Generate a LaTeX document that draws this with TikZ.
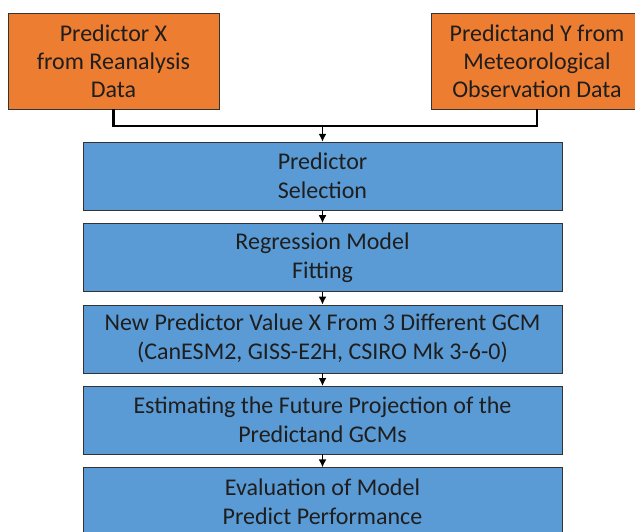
\documentclass[tikz,border=0pt]{standalone}
\usepackage{fontspec}
\setmainfont{Carlito}
\usetikzlibrary{positioning,arrows.meta}

\definecolor{dataorange}{HTML}{ED7D31}
\definecolor{stepblue}{HTML}{5B9BD5}
\definecolor{textdark}{HTML}{1E1E1E}

\tikzset{
  databox/.style={draw=black!80, fill=dataorange, minimum width=211pt, minimum height=96pt,
    align=center, text=textdark, font=\fontsize{24}{28}\selectfont, inner sep=0pt},
  stepbox/.style={draw=black!80, fill=stepblue, minimum width=479pt, minimum height=68pt,
    align=center, text=textdark, font=\fontsize{24}{29}\selectfont, inner sep=0pt},
  flow/.style={-{Latex[length=8pt,width=8pt]}, line width=1.6pt}
}

\begin{document}
\begin{tikzpicture}[x=1pt, y=1pt]
    \useasboundingbox (0,0) rectangle (635,-531);

    % Input data
    \node[databox] (px) at (113.5,-61) {Predictor X\\from Reanalysis\\Data};
    \node[databox] (py) at (537,-61) {Predictand Y from\\Meteorological\\Observation Data};

    % Downscaling steps
    \node[stepbox] (sel) at (322.5,-176) {Predictor\\Selection};
    \node[stepbox, below=13pt of sel] (fit) {Regression Model\\Fitting};
    \node[stepbox, below=13pt of fit] (gcm) {New Predictor Value X From 3 Different GCM\\(CanESM2, GISS-E2H, CSIRO Mk 3-6-0)};
    \node[stepbox, below=13pt of gcm] (proj) {Estimating the Future Projection of the\\Predictand GCMs};
    \node[stepbox, below=13pt of proj] (eval) {Evaluation of Model\\Predict Performance};

    % Join of the two inputs
    \coordinate (join) at (322.5,-126);
    \draw[line width=2.4pt] (px.south) |- (join) -| (py.south);
    \draw[flow] (join) -- (sel);

    \draw[flow] (sel) -- (fit);
    \draw[flow] (fit) -- (gcm);
    \draw[flow] (gcm) -- (proj);
    \draw[flow] (proj) -- (eval);
\end{tikzpicture}
\end{document}
